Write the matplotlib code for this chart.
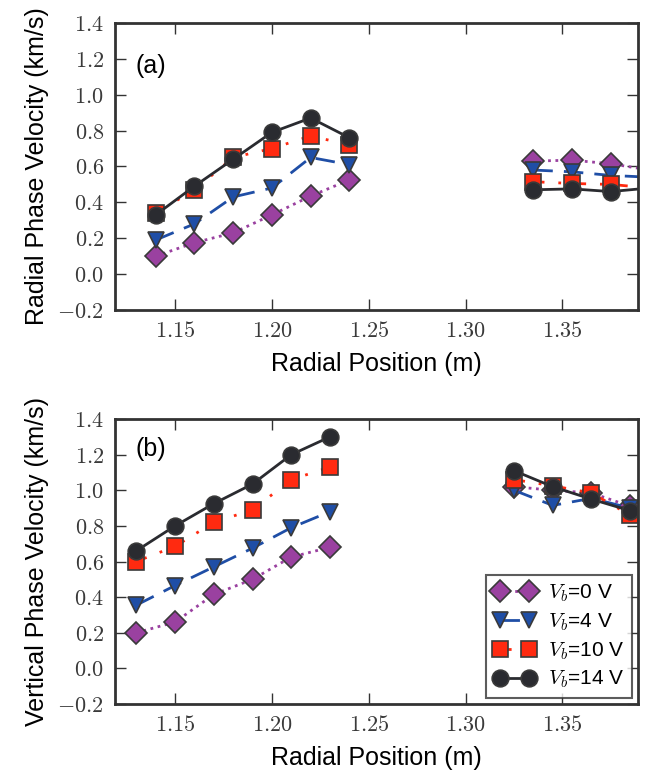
import matplotlib
matplotlib.use("Agg")
import matplotlib.pyplot as plt
from matplotlib.ticker import FuncFormatter, MultipleLocator

plt.rcParams['font.family'] = ['Liberation Sans', 'DejaVu Sans']
plt.rcParams['mathtext.fontset'] = 'cm'

# (a) radial phase velocity, inner and outer groups
xa_in = [1.14, 1.16, 1.18, 1.20, 1.22, 1.24]
xa_out = [1.335, 1.355, 1.375, 1.395]
va = {
    0: [0.10, 0.175, 0.23, 0.33, 0.435, 0.525],
    4: [0.19, 0.28, 0.43, 0.48, 0.65, 0.61],
    10: [0.34, 0.47, 0.65, 0.70, 0.77, 0.72],
    14: [0.33, 0.49, 0.64, 0.79, 0.87, 0.76],
}
va_out = {
    0: [0.63, 0.635, 0.615, 0.58],
    4: [0.58, 0.57, 0.55, 0.54],
    10: [0.515, 0.505, 0.50, 0.48],
    14: [0.47, 0.475, 0.46, 0.48],
}

# (b) vertical phase velocity
xb_in = [1.13, 1.15, 1.17, 1.19, 1.21, 1.23]
xb_out = [1.325, 1.345, 1.365, 1.385]
vb = {
    0: [0.20, 0.26, 0.415, 0.50, 0.625, 0.68],
    4: [0.355, 0.465, 0.57, 0.675, 0.79, 0.88],
    10: [0.60, 0.685, 0.82, 0.89, 1.06, 1.13],
    14: [0.66, 0.80, 0.925, 1.035, 1.20, 1.30],
}
vb_out = {
    0: [1.02, 1.00, 0.985, 0.91],
    4: [1.00, 0.915, 0.955, 0.90],
    10: [1.06, 1.025, 0.985, 0.86],
    14: [1.11, 1.02, 0.95, 0.885],
}

voltages = [0, 4, 10, 14]
styles = {
    0: dict(color='#9a41a0', ls=':', marker='D', ms=11),
    4: dict(color='#1f4ea6', ls=(0, (7, 4)), marker='v', ms=12),
    10: dict(color='#ff2a10', ls=(0, (4, 5, 1, 5)), marker='s', ms=11),
    14: dict(color='#2a2b30', ls='-', marker='o', ms=12),
}
edge = '#3a3a3a'

fig = plt.figure(figsize=(6.48, 7.76), dpi=100)
ax1 = fig.add_axes([0.1775, 0.6005, 0.807, 0.370])
ax2 = fig.add_axes([0.1775, 0.0928, 0.807, 0.3672])

def draw(ax, xin, xout, din, dout):
    for v in voltages:
        st = styles[v]
        kw = dict(color=st['color'], ls=st['ls'], lw=2, marker=st['marker'],
                  ms=st['ms'], mfc=st['color'], mec=edge, mew=1.2)
        ax.plot(xin, din[v], label=r'$V_b$=%d V' % v, **kw)
        ax.plot(xout, dout[v], **kw)

draw(ax1, xa_in, xa_out, va, va_out)
draw(ax2, xb_in, xb_out, vb, vb_out)

fmt = FuncFormatter(lambda val, pos: r'$%.2f$' % val)
yfmt = FuncFormatter(lambda val, pos: r'$%.1f$' % val)
for ax in (ax1, ax2):
    ax.set_xlim(1.119, 1.389)
    ax.set_ylim(-0.2, 1.4)
    ax.xaxis.set_major_locator(MultipleLocator(0.05))
    ax.yaxis.set_major_locator(MultipleLocator(0.2))
    ax.xaxis.set_major_formatter(fmt)
    ax.yaxis.set_major_formatter(yfmt)
    ax.tick_params(direction='in', top=True, right=True, length=8,
                   width=1, color='#333333', labelsize=16, pad=8,
                   labelcolor='#3a3a3a')
    for sp in ax.spines.values():
        sp.set_color('#333333')
        sp.set_linewidth(2)
    ax.set_xlabel('Radial Position (m)', fontsize=18, labelpad=7)

ax1.set_ylabel('Radial Phase Velocity (km/s)', fontsize=18, labelpad=6)
ax2.set_ylabel('Vertical Phase Velocity (km/s)', fontsize=18, labelpad=6)
ax1.text(0.04, 0.85, '(a)', transform=ax1.transAxes, fontsize=18, va='center')
ax2.text(0.04, 0.895, '(b)', transform=ax2.transAxes, fontsize=18, va='center')

leg = ax2.legend(loc='lower right', numpoints=2, fontsize=15, fancybox=False,
                 handlelength=2.0, borderpad=0.35, labelspacing=0.35,
                 handletextpad=0.6, borderaxespad=0.3)
leg.get_frame().set_edgecolor('#333333')
leg.get_frame().set_linewidth(1.5)

fig.savefig('out.png', dpi=100)
